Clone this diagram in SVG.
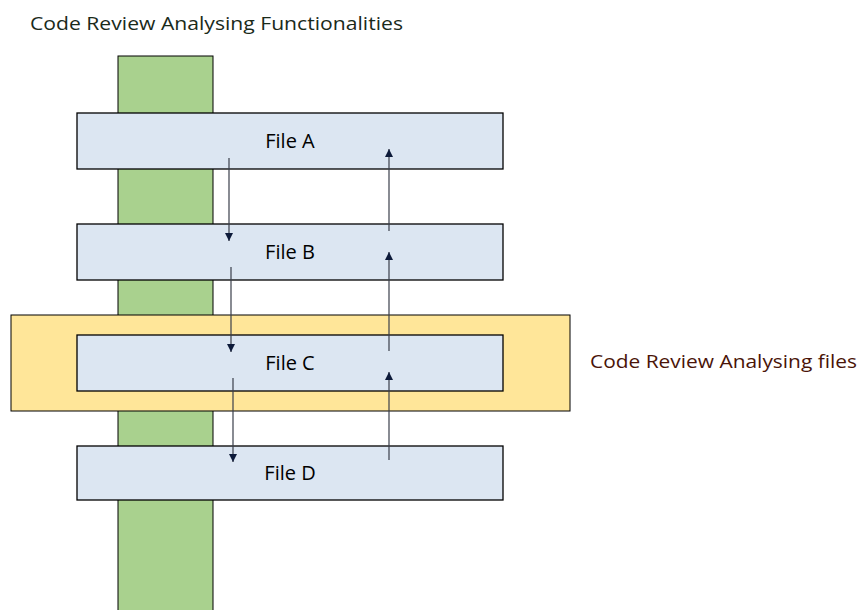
<svg xmlns="http://www.w3.org/2000/svg" width="859" height="610" viewBox="0 0 859 610">
<style>
.file{fill:#dce6f2;stroke:#000;stroke-width:1.3}
.lbl{font-family:"Open Sans","Liberation Sans",sans-serif;font-size:20px;fill:#000;text-anchor:middle}
.conn line{stroke:#3a3f4a;stroke-width:1.2;marker-end:url(#ah)}
</style>
<defs>
<marker id="ah" viewBox="0 0 8 8" refX="8" refY="4" markerWidth="8" markerHeight="8" markerUnits="userSpaceOnUse" orient="auto">
<path d="M0,0 L8,4 L0,8 z" fill="#0d1a3a"/>
</marker>
</defs>
<rect width="859" height="610" fill="#fff"/>
<g id="title"><text x="30" y="30" font-family="Open Sans, Liberation Sans, sans-serif" font-size="19" fill="#1a2a1a" textLength="373" lengthAdjust="spacingAndGlyphs">Code Review Analysing Functionalities</text></g>
<g id="functionality-column"><rect x="118" y="56" width="95" height="560" fill="#a9d18e" stroke="#000" stroke-width="1"/></g>
<g id="files-group"><rect x="11" y="315" width="559" height="96" fill="#ffe699" stroke="#000" stroke-width="1"/></g>
<g id="files-label"><text x="590" y="368" font-family="Open Sans, Liberation Sans, sans-serif" font-size="19" fill="#4a1408" textLength="267" lengthAdjust="spacingAndGlyphs">Code Review Analysing files</text></g>
<g id="fileA"><rect class="file" x="77" y="113" width="426" height="56"/><text class="lbl" x="290" y="148">File A</text></g>
<g id="fileB"><rect class="file" x="77" y="224" width="426" height="56"/><text class="lbl" x="290" y="259">File B</text></g>
<g id="fileC"><rect class="file" x="77" y="335" width="426" height="56"/><text class="lbl" x="290" y="370">File C</text></g>
<g id="fileD"><rect class="file" x="77" y="446" width="426" height="54"/><text class="lbl" x="290" y="480">File D</text></g>
<g id="connectors" class="conn">
<line x1="229" y1="158" x2="229" y2="241"/>
<line x1="231" y1="267" x2="231" y2="352"/>
<line x1="233" y1="378" x2="233" y2="462"/>
<line x1="389" y1="460" x2="389" y2="372"/>
<line x1="389" y1="351" x2="389" y2="252"/>
<line x1="389" y1="231" x2="389" y2="149"/>
</g>
</svg>
